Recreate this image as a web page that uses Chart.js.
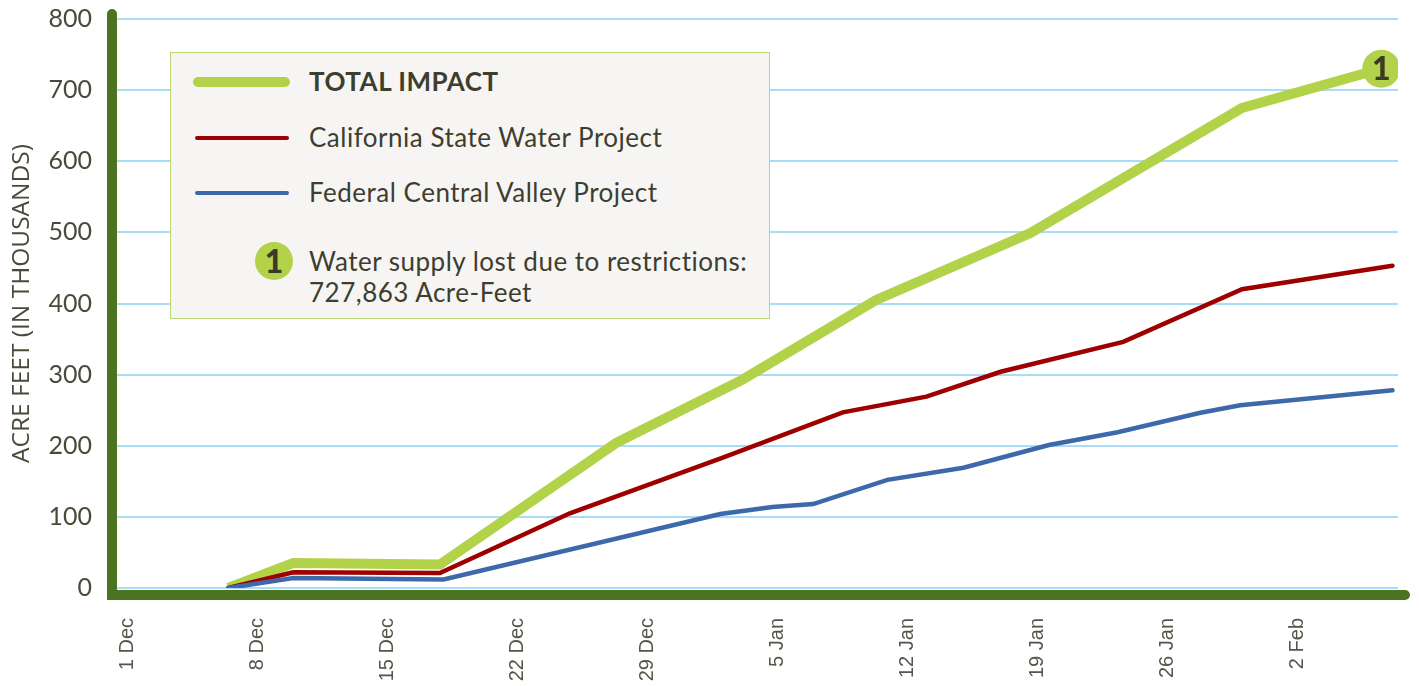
<!DOCTYPE html>
<html>
<head>
<meta charset="utf-8">
<script src="https://cdn.jsdelivr.net/npm/chart.js@4.4.1/dist/chart.umd.min.js"></script>
<style>
  html, body { margin: 0; padding: 0; background: #ffffff; }
  #wrap { position: relative; width: 1419px; height: 686px; overflow: hidden; }
  #c { position: absolute; left: 0; top: 0; }
  #legend { position: absolute; left: 170px; top: 52px; width: 600px; height: 267px; box-sizing: border-box;
            background: #f6f5f3; border: 1.5px solid #bcd874; font-family: Lato, "Open Sans", sans-serif; color: #3e3e2e; }
  .sw { position: absolute; left: 22px; width: 97px; border-radius: 6px; }
  .lt { position: absolute; left: 138px; white-space: nowrap; font-size: 26px; line-height: 30px; letter-spacing: 0.5px; }
  .badge { position: absolute; left: 84px; top: 189px; width: 38px; height: 38px; border-radius: 50%; background: #b2d24a;
           color: #3a3a26; font-weight: 900; font-size: 32px; line-height: 38px; text-align: center; font-family: Lato, sans-serif; }
</style>
</head>
<body>
<div id="wrap">
  <canvas id="c" width="1419" height="686"></canvas>
  <div id="legend">
    <div class="sw" style="top:24px;height:10px;background:#b2d24a;"></div>
    <div class="lt" style="top:13px;font-weight:700;">TOTAL IMPACT</div>
    <div class="sw" style="top:83px;height:4px;left:24px;width:94px;background:#9e0000;"></div>
    <div class="lt" style="top:69px;">California State Water Project</div>
    <div class="sw" style="top:138px;height:4px;left:24px;width:94px;background:#3d69aa;"></div>
    <div class="lt" style="top:124px;">Federal Central Valley Project</div>
    <div class="badge">1</div>
    <div class="lt" style="top:193px;">Water supply lost due to restrictions:</div>
    <div class="lt" style="top:224px;">727,863 Acre-Feet</div>
  </div>
</div>
<script>
// ---- data (days since 1 Dec, acre-feet in thousands) ----
const tickDays = [0, 7, 14, 21, 28, 35, 42, 49, 56, 63];
const tickLabels = ['1 Dec', '8 Dec', '15 Dec', '22 Dec', '29 Dec', '5 Jan', '12 Jan', '19 Jan', '26 Jan', '2 Feb'];

const totalDays = [5.4, 8.9, 16.8, 26.3, 33.1, 40.3, 48.6, 60.0, 67.5];
const totalValues = [0, 35, 33, 204, 293, 405, 499, 675, 730];

const stateDays = [5.4, 8.9, 16.8, 23.8, 32.0, 38.5, 43.0, 47.0, 53.6, 60.0, 68.1];
const stateValues = [0, 22, 21, 105, 183, 247, 269, 304, 346, 420, 453];

const federalDays = [5.4, 8.9, 17.0, 31.9, 34.7, 36.9, 40.9, 45.0, 49.6, 53.3, 57.7, 59.9, 68.1];
const federalValues = [0, 14, 12, 104, 114, 118, 152, 169, 201, 219, 246, 257, 278];

const seriesNames = ['TOTAL IMPACT', 'California State Water Project', 'Federal Central Valley Project'];
const markerLabel = '1';

const toPts = (d, v) => d.map((x, i) => ({ x: x, y: v[i] }));

const AXIS = '#4b7320';
const TXT = '#4a4a3a';

const axesPlugin = {
  id: 'axes',
  afterDatasetsDraw(chart) {
    const ctx = chart.ctx, a = chart.chartArea;
    ctx.save();
    ctx.strokeStyle = AXIS;
    ctx.lineWidth = 10;
    ctx.lineCap = 'round';
    ctx.beginPath();
    ctx.moveTo(a.left, a.top - 5);
    ctx.lineTo(a.left, a.bottom + 7);
    ctx.lineTo(a.right + 7, a.bottom + 7);
    ctx.stroke();
    const meta = chart.getDatasetMeta(0);
    const p = meta.data[meta.data.length - 1];
    ctx.fillStyle = '#3a3a26';
    ctx.font = '900 32px Lato, sans-serif';
    ctx.textAlign = 'center';
    ctx.textBaseline = 'middle';
    ctx.fillText(markerLabel, p.x, p.y + 1);
    ctx.restore();
  }
};

new Chart(document.getElementById('c'), {
  type: 'line',
  data: {
    datasets: [
      { label: seriesNames[0], data: toPts(totalDays, totalValues), borderColor: '#b2d24a', borderWidth: 10,
        pointRadius: totalDays.map((d, i) => i === totalDays.length - 1 ? 19 : 0),
        pointBackgroundColor: '#b2d24a', pointBorderWidth: 0, borderJoinStyle: 'miter', borderCapStyle: 'butt', order: 3 },
      { label: seriesNames[1], data: toPts(stateDays, stateValues), borderColor: '#9e0000', borderWidth: 4.5,
        pointRadius: 0, borderJoinStyle: 'miter', borderCapStyle: 'round', order: 2 },
      { label: seriesNames[2], data: toPts(federalDays, federalValues), borderColor: '#3d69aa', borderWidth: 4.5,
        pointRadius: 0, borderJoinStyle: 'miter', borderCapStyle: 'round', order: 1 }
    ]
  },
  options: {
    responsive: false,
    animation: false,
    devicePixelRatio: 1,
    layout: { padding: { top: 19, right: 21, left: 0, bottom: 0 } },
    plugins: { legend: { display: false }, tooltip: { enabled: false } },
    scales: {
      x: {
        type: 'linear', min: -0.86, max: 68.4,
        afterBuildTicks: s => { s.ticks = tickDays.map(v => ({ value: v })); },
        afterFit: s => { s.height = 98; s.paddingLeft = 0; s.paddingRight = 0; },
        grid: { display: false }, border: { display: false },
        ticks: { autoSkip: false, minRotation: 90, maxRotation: 90, padding: 22,
                 color: '#55554a', font: { family: 'Liberation Sans, Arial, sans-serif', size: 20 },
                 callback: v => { const i = tickDays.indexOf(v); return i >= 0 ? tickLabels[i] : ''; } }
      },
      y: {
        min: 0, max: 800,
        afterFit: s => { s.width = 112; s.paddingTop = 0; s.paddingBottom = 0; },
        grid: { color: '#a9dcf5', lineWidth: 2, drawTicks: false },
        border: { display: false },
        ticks: { stepSize: 100, padding: 20, color: TXT, font: { family: 'Lato, sans-serif', size: 25 } },
        title: { display: true, text: 'ACRE FEET (IN THOUSANDS)', color: TXT, padding: { top: 7, bottom: 0 },
                 font: { family: 'Open Sans, sans-serif', size: 24.5 } }
      }
    }
  },
  plugins: [axesPlugin]
});
</script>
</body>
</html>
